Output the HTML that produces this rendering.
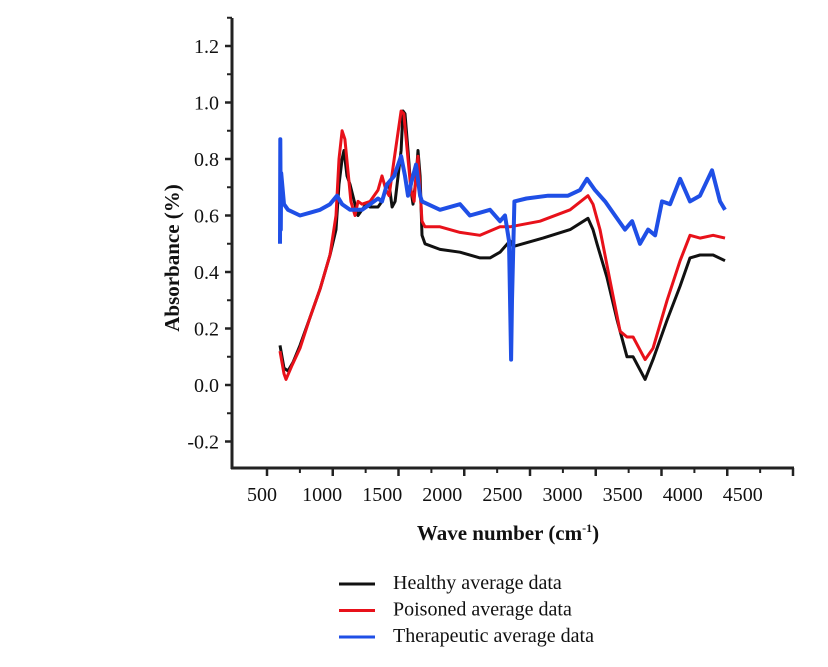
<!DOCTYPE html>
<html><head><meta charset="utf-8"><style>
body{margin:0;background:#fff;}
svg{display:block;font-family:"Liberation Serif",serif;}
</style></head><body>
<svg id="chart" width="828" height="667"></svg>
<script>
const yTicks=[-0.2,0,0.2,0.4,0.6,0.8,1.0,1.2];
const yTickLabels=["-0.2","0.0","0.2","0.4","0.6","0.8","1.0","1.2"];
const xTickLabels=["500","1000","1500","2000","2500","3000","3500","4000","4500"];
const healthyX=[650,683,716,758,816,900,983,1066,1116,1141,1166,1182,1207,1232,1274,1299,1332,1365,1399,1465,1498,1532,1557,1582,1607,1632,1657,1673,1690,1715,1740,1756,1781,1798,1815,1831,1856,1981,2147,2314,2397,2480,2563,2588,2838,3063,3212,3254,3287,3370,3454,3537,3587,3687,3753,3870,3978,4061,4144,4253,4352];
const healthyY=[.14,.06,.05,.08,.14,.24,.34,.46,.55,.71,.80,.83,.74,.71,.64,.60,.62,.64,.63,.63,.65,.70,.71,.63,.65,.74,.83,.97,.96,.83,.69,.64,.73,.83,.74,.53,.50,.48,.47,.45,.45,.47,.51,.49,.52,.55,.59,.55,.50,.38,.23,.10,.10,.02,.09,.23,.35,.45,.46,.46,.44];
const poisonedX=[650,683,700,750,816,900,983,1066,1116,1141,1166,1190,1215,1240,1274,1299,1332,1399,1465,1498,1532,1557,1600,1657,1680,1715,1740,1765,1781,1798,1831,1856,1981,2147,2314,2480,2563,2813,3063,3212,3254,3312,3395,3479,3537,3587,3687,3753,3870,3978,4061,4144,4253,4352];
const poisonedY=[.12,.04,.02,.07,.13,.24,.34,.46,.60,.80,.90,.87,.76,.65,.60,.65,.64,.65,.69,.74,.69,.67,.80,.97,.96,.80,.69,.65,.74,.81,.58,.56,.56,.54,.53,.56,.56,.58,.62,.67,.64,.55,.37,.19,.17,.17,.09,.13,.30,.44,.53,.52,.53,.52];
const therapX=[650,652,656,660,683,716,816,900,983,1066,1124,1166,1232,1332,1399,1465,1498,1540,1600,1657,1690,1715,1750,1781,1815,1831,1981,2147,2230,2314,2397,2480,2522,2555,2572,2580,2600,2700,2880,3046,3146,3204,3270,3354,3437,3520,3579,3645,3712,3770,3828,3895,3978,4061,4144,4244,4310,4352];
const therapY=[.50,.87,.55,.75,.64,.62,.60,.61,.62,.64,.67,.64,.62,.62,.64,.66,.65,.71,.74,.81,.74,.67,.73,.78,.67,.65,.62,.64,.60,.61,.62,.58,.60,.51,.09,.30,.65,.66,.67,.67,.69,.73,.69,.65,.60,.55,.58,.50,.55,.53,.65,.64,.73,.65,.67,.76,.65,.62];

const NS="http://www.w3.org/2000/svg";
const svg=document.getElementById('chart');
const xS=v=>262+(v-500)*60.1/500;
const yS=v=>385-v*282.5;
function mk(t,a,txt){const e=document.createElementNS(NS,t);for(const k in a)e.setAttribute(k,a[k]);if(txt!=null)e.textContent=txt;svg.appendChild(e);return e;}

let e=mk('line',{x1:232,y1:18,x2:232,y2:469,stroke:'#222','stroke-width':3});


e=mk('line',{x1:231,y1:468,x2:794,y2:468,stroke:'#222','stroke-width':3});



yTicks.forEach((t,i)=>{
  const y=yS(t);
  let l=mk('line',{x1:225,y1:y,x2:232,y2:y,stroke:'#222','stroke-width':2.5});
  
  
  let m=mk('line',{x1:227,y1:y-28.25,x2:232,y2:y-28.25,stroke:'#222','stroke-width':2});
  
  
  let tx=mk('text',{x:219,y:y+7,'text-anchor':'end','font-size':20,fill:'#111'},yTickLabels[i]);
  
  
});
for(let k=0;k<9;k++){
  const x=267+k*65.75;
  let l=mk('line',{x1:x,y1:468,x2:x,y2:476,stroke:'#222','stroke-width':2.5});
  
  
  if(k<8){let m=mk('line',{x1:x+32.9,y1:468,x2:x+32.9,y2:473,stroke:'#222','stroke-width':2});
  
  }
}
xTickLabels.forEach((t,i)=>{
  let tx=mk('text',{x:262+i*60.1,y:501,'text-anchor':'middle','font-size':20,fill:'#111'},t);
  
  
});
e=mk('text',{x:0,y:0,transform:'translate(179,258) rotate(-90)','text-anchor':'middle','font-size':21,'font-weight':'bold',fill:'#111'},'Absorbance (%)');


e=mk('text',{x:508,y:540,'text-anchor':'middle','font-size':21,'font-weight':'bold',fill:'#111'},'Wave number (cm');


const ts=document.createElementNS(NS,'tspan');ts.setAttribute('font-size',12);ts.setAttribute('dy',-8);ts.textContent='-1';e.appendChild(ts);
const ts2=document.createElementNS(NS,'tspan');ts2.setAttribute('dy',8);ts2.textContent=')';e.appendChild(ts2);

function series(xs,ys,color,w,name){
  const d=xs.map((x,i)=>(i?'L':'M')+xS(x).toFixed(1)+','+yS(ys[i]).toFixed(1)).join(' ');
  const p=mk('path',{d:d,fill:'none',stroke:color,'stroke-width':w,'stroke-linejoin':'round'});
  
  
}
series(healthyX,healthyY,'#111',3,'healthy-line');
series(poisonedX,poisonedY,'#e8111a',3,'poisoned-line');
series(therapX,therapY,'#1f4fe6',4,'therapeutic-line');

const leg=[['#111','Healthy average data'],['#e8111a','Poisoned average data'],['#1f4fe6','Therapeutic average data']];
leg.forEach((l,i)=>{
  const y=584+i*26.5;
  let ln=mk('line',{x1:339,y1:y,x2:375,y2:y,stroke:l[0],'stroke-width':3});
  
  
  let tx=mk('text',{x:393,y:y+5,'font-size':20,fill:'#111'},l[1]);
  
  
});
</script>
</body></html>
